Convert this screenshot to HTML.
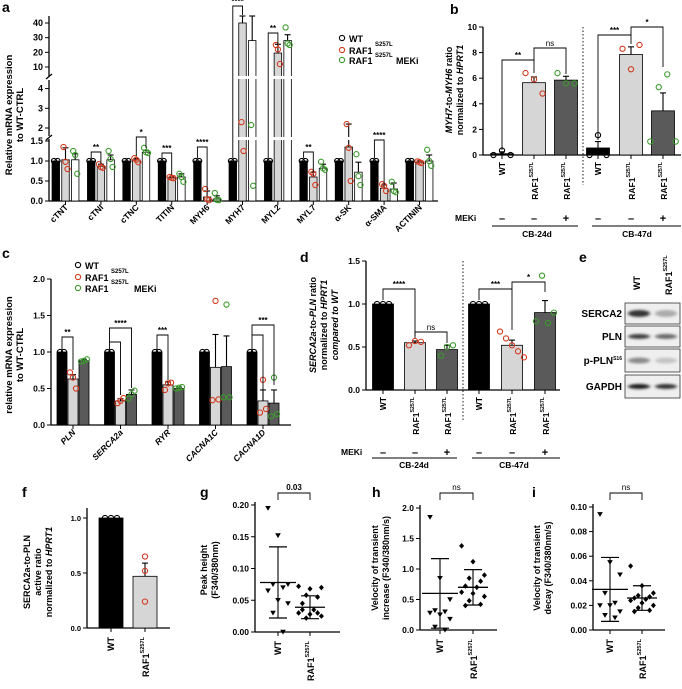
<!DOCTYPE html>
<html><head><meta charset="utf-8"><style>
html,body{margin:0;padding:0;background:#fff;}
svg{display:block;font-family:"Liberation Sans",Arial,sans-serif;font-weight:bold;}
</style></head><body>
<svg id="fig" xmlns="http://www.w3.org/2000/svg" width="682" height="689" viewBox="0 0 682 689"></svg>
<script>
// ---------- Panel a data ----------
const aGenes=['cTNT','cTNI','cTNC','TITIN','MYH6','MYH7','MYL2','MYL7','α-SK','α-SMA','ACTININ'];
const aWT=[1,1,1,1,1,1,1,1,1,1,1];
const aRaf=[1.03,0.87,1.03,0.58,0.1,40,19.5,0.6,1.35,0.32,0.97];
const aMek=[1.03,1.03,1.22,0.6,0.05,28,28,0.82,0.72,0.3,1.0];
const aRafErr=[0.3,0.05,0.03,0.02,0.15,6,6,0.12,0.85,0.08,0.03];
const aMekErr=[0.15,0.12,0.05,0.08,0.08,20,4,0.1,0.25,0.15,0.15];
const aRafPts=[[1.35,0.98,0.8],[0.92,0.85,0.83],[1.07,1.03,0.97],[0.6,0.58,0.57],[0.3,0.05,0.02],[2.3,1.25],[25,22,12],[0.73,0.68,0.4],[2.2,1.33,0.5],[0.42,0.38,0.25],[0.99,0.97,0.95]];
const aMekPts=[[1.25,1.15,0.68],[1.25,1.05,0.85],[1.33,1.22,1.2],[0.68,0.6,0.48],[0.2,0.03,0.02],[2.15,0.38],[37,26,25],[0.98,0.82,0.78],[1.17,0.62,0.4],[0.48,0.25,0.22],[1.28,1.0,0.88]];
const aTicks=[0,0.5,1,1.5,2,3,4,10,20,30,40];
const aTickLabels=['0.0','0.5','1.0','1.5','2','3','4','10','20','30','40'];
// ---------- Panel b data ----------
const bCats=['WT','RAF1','RAF1','WT','RAF1','RAF1'];
const bMeki=['–','–','+','–','–','+'];
const bVals=[0.1,5.65,5.85,0.55,7.85,3.45];
const bErr=[0.15,0.45,0.3,0.5,0.6,1.4];
const bPts=[[0,0.35,0],[6.4,5.9,4.8],[6.4,5.6,5.6],[0,1.55,0],[8.3,6.7,8.6],[1.05,5.3,6.3,1.05]];
const bTicks=[0,2,4,6,8,10];
// ---------- Panel c data ----------
const cGenes=['PLN','SERCA2a','RYR','CACNA1C','CACNA1D'];
const cWT=[1,1,1,1,1];
const cRaf=[0.63,0.33,0.55,0.79,0.33];
const cMek=[0.88,0.42,0.5,0.8,0.3];
const cRafErr=[0.06,0.03,0.04,0.45,0.15];
const cMekErr=[0.02,0.06,0.02,0.42,0.18];
const cRafPts=[[0.72,0.65,0.5],[0.3,0.33,0.37],[0.48,0.57,0.58],[0.34,1.7,0.35],[0.17,0.62,0.22]];
const cMekPts=[[0.87,0.88,0.9],[0.36,0.42,0.47],[0.5,0.51,0.52],[0.38,1.65,0.38],[0.12,0.65,0.15]];
const cTicks=[0,0.5,1,1.5,2];
// ---------- Panel d data ----------
const dVals=[1,0.55,0.47,1,0.52,0.9];
const dErr=[0,0.02,0.05,0,0.06,0.14];
const dPts=[[1,1,1],[0.52,0.57,0.56],[0.4,0.5,0.52],[1,1,1],[0.68,0.6,0.52,0.45,0.38],[0.8,1.33,0.78,0.9]];
const dTicks=[0,0.5,1,1.5];
// ---------- Panel f data ----------
const fVals=[1,0.47];
const fErr=[0,0.12];
const fPts=[[1,1,1],[0.65,0.52,0.24]];
const fTicks=[0,0.5,1];
// ---------- Panels g,h,i data ----------
const gWT=[0.195,0.152,0.075,0.075,0.07,0.065,0.05,0.045,0.03,0.0];
const gRaf=[0.072,0.068,0.07,0.058,0.055,0.045,0.035,0.03,0.028,0.025,0.022,0.03,0.035];
const gMean=[0.078,0.039];
const gSD=[0.056,0.018];
const gTicks=[0,0.05,0.1,0.15,0.2];
const hWT=[1.85,0.85,0.5,0.32,0.3,0.28,0.25,0.18,0.05,0.0];
const hRaf=[1.38,1.12,0.9,0.85,0.8,0.72,0.7,0.62,0.6,0.55,0.48,0.42,0.4];
const hMean=[0.6,0.7];
const hSD=[0.57,0.29];
const hTicks=[0,0.5,1,1.5,2];
const iWT=[0.094,0.055,0.045,0.03,0.022,0.02,0.02,0.015,0.012,0.01];
const iRaf=[0.052,0.036,0.03,0.028,0.027,0.026,0.025,0.024,0.022,0.02,0.018,0.016,0.015];
const iMean=[0.033,0.026];
const iSD=[0.026,0.01];
const iTicks=[0,0.02,0.04,0.06,0.08,0.1];

const NS='http://www.w3.org/2000/svg';
const svg=document.getElementById('fig');
const RED='#d23a1e', GRN='#3b9a2c', LG='#d6d6d6', DG='#5a5a5a';
function mk(tag,attrs,name,parent){
  const e=document.createElementNS(NS,tag);
  for(const k in attrs)e.setAttribute(k,attrs[k]);
  
  
  (parent||svg).appendChild(e);
  return e;
}
function tx(x,y,s,o,name){
  o=o||{};
  const a={x:x,y:y,'font-size':o.fs||8,'text-anchor':o.anchor||'start',fill:o.fill||'#000'};
  if(o.rot!==undefined)a.transform='rotate('+o.rot+' '+x+' '+y+')';
  if(o.italic)a['font-style']='italic';
  if(o.weight)a['font-weight']=o.weight;
  const t=mk('text',a,name);
  t.textContent=s;
  return t;
}
function raf(x,y,rot,name,fs){
  const a={x:x,y:y,'font-size':fs||8,'text-anchor':'end'};
  if(rot!==undefined)a.transform='rotate('+rot+' '+x+' '+y+')';
  const t=mk('text',a,name);
  t.appendChild(document.createTextNode('RAF1'));
  const s=document.createElementNS(NS,'tspan');
  s.setAttribute('font-size',(fs||8)*0.62);s.setAttribute('dy',-5);
  s.textContent='S257L';t.appendChild(s);
  return t;
}
function line(x1,y1,x2,y2,name,w,extra){
  const a={x1:x1,y1:y1,x2:x2,y2:y2,stroke:'#000','stroke-width':w||1};
  if(extra)for(const k in extra)a[k]=extra[k];
  return mk('line',a,name);
}
function circ(x,y,col,name){return mk('circle',{cx:x,cy:y,r:2.6,fill:'none',stroke:col,'stroke-width':1.1},name);}
function bar(x,w,y0,y1,fill,name){return mk('rect',{x:x-w/2,y:Math.min(y0,y1),width:w,height:Math.abs(y0-y1),fill:fill,stroke:'#000','stroke-width':0.8},name);}
function errUp(x,yv,ye,name){line(x,yv,x,ye,name,1.1);line(x-3,ye,x+3,ye,name+'-cap',1.1);}
function bracket(x1,ya1,x2,ya2,top,label,name,fs){
  mk('path',{d:'M'+x1+' '+ya1+'V'+top+'H'+x2+'V'+ya2,fill:'none',stroke:'#000','stroke-width':0.9},name);
  tx((x1+x2)/2,top-2,label,{fs:fs||8,anchor:'middle',weight:label==='ns'?'normal':'bold'},name+'-label');
}
function jit(i,n,sp){return (i-(n-1)/2)*sp;}

// ================= Panel a =================
tx(2,12,'a',{fs:14},'panel-a-label');
function ya(v){
  if(v<=1.5)return 201-40*v;
  if(v<=4.4)return 128-(v-2)*19.7;
  if(v<10)return 80-(v-4.4)/(5.6)*13;
  return 67-(v-10)*1.467;
}
line(49,201,49,139,'a-y-axis-seg1',1.3);line(49,136,49,80,'a-y-axis-seg2',1.3);line(49,76,49,16,'a-y-axis-seg3',1.3);
line(46,140,52,135,'a-axis-break-1',1.3);line(46,79,52,74,'a-axis-break-2',1.3);
line(49,201,438,201,'a-x-axis',1.3);
aTicks.forEach((t,i)=>{const y=ya(t);line(45,y,49,y,'a-y-tick');tx(43,y+3,aTickLabels[i],{fs:9,anchor:'end'},'a-y-tick-label');});
tx(12,115,'Relative mRNA expression',{fs:9.5,anchor:'middle',rot:-90},'a-y-axis-title');
tx(23,115,'to WT-CTRL',{fs:9.5,anchor:'middle',rot:-90},'a-y-axis-title-2');
aGenes.forEach((g,i)=>{
  const c=65.5+35.4*i, bw=7.5;
  bar(c-9.7,bw,201,ya(aWT[i]),'#000','a-bar-wt-'+g);
  bar(c,bw,201,ya(aRaf[i]),LG,'a-bar-raf1-'+g);
  bar(c+9.7,bw,201,ya(aMek[i]),'#fff','a-bar-meki-'+g);
  errUp(c,ya(aRaf[i]),Math.max(16,ya(aRaf[i]+aRafErr[i])),'a-err-raf1-'+g);
  errUp(c+9.7,ya(aMek[i]),Math.max(16,ya(aMek[i]+aMekErr[i])),'a-err-meki-'+g);
  line(c,201,c,205,'a-x-tick');
  tx(c+3,208,g,{fs:8.5,anchor:'end',rot:-45},'a-x-label-'+g);
});
mk('rect',{x:50,y:76,width:388,height:3,fill:'#fff'},'a-break-band-1');
mk('rect',{x:50,y:137,width:388,height:3,fill:'#fff'},'a-break-band-2');
aGenes.forEach((g,i)=>{
  const c=65.5+35.4*i;
  circ(c-11.5,ya(aWT[i]),'#000','a-point-wt');circ(c-8,ya(aWT[i]),'#000','a-point-wt');
  aRafPts[i].forEach((v,j)=>circ(c+jit(j,aRafPts[i].length,2),ya(v),RED,'a-point-raf1'));
  aMekPts[i].forEach((v,j)=>circ(c+9.7+jit(j,aMekPts[i].length,2),ya(v),GRN,'a-point-meki'));
});
(function(){const b=(i,k)=>65.5+35.4*i+(k-1)*9.7;
bracket(b(1,0),158,b(1,1),164,152,'**','a-sig-ctni');
bracket(b(2,1),156,b(2,2),148,137,'*','a-sig-ctnc');
bracket(b(3,0),158,b(3,1),175,153,'***','a-sig-titin');
bracket(b(4,0),158,b(4,1),190,147,'****','a-sig-myh6');
bracket(b(5,0),158,b(5,1),15,6,'****','a-sig-myh7');
bracket(b(6,0),158,b(6,1),45,33,'**','a-sig-myl2');
bracket(b(7,0),158,b(7,1),172,152,'**','a-sig-myl7');
bracket(b(9,0),158,b(9,1),185,140,'****','a-sig-asma');})();
circ(342,38,'#000','a-legend-wt-marker');tx(349,42,'WT',{fs:9},'a-legend-wt');
circ(342,50,RED,'a-legend-raf1-marker');tx(349,54,'RAF1',{fs:9},'a-legend-raf1');tx(375,46,'S257L',{fs:6},'a-legend-raf1-sup');
circ(342,60,GRN,'a-legend-meki-marker');tx(349,64,'RAF1',{fs:9},'a-legend-meki');tx(375,57,'S257L',{fs:6},'a-legend-meki-sup');tx(396,64,'MEKi',{fs:9},'a-legend-meki-label');

// ================= Panel b =================
tx(450,14,'b',{fs:14},'panel-b-label');
function yb(v){return 155-12.8*v;}
const bX=[502,534,566,598,631,663];
line(483,155,483,27,'b-y-axis',1.3);line(483,155,681,155,'b-x-axis',1.3);
bTicks.forEach(t=>{line(479,yb(t),483,yb(t),'b-y-tick');tx(477,yb(t)+3,String(t),{fs:8.5,anchor:'end'},'b-y-tick-label');});
line(583,27,583,185,'b-divider',0.9,{'stroke-dasharray':'1.5,2'});
(function(){
  const t=mk('text',{x:452,y:90,'font-size':9,'text-anchor':'middle',transform:'rotate(-90 452 90)'},'b-y-axis-title');
  t.innerHTML='<tspan font-style="italic">MYH7</tspan>-to-<tspan font-style="italic">MYH6</tspan> ratio';
  const t2=mk('text',{x:463,y:90,'font-size':9,'text-anchor':'middle',transform:'rotate(-90 463 90)'},'b-y-axis-title-2');
  t2.innerHTML='normalized to <tspan font-style="italic">HPRT1</tspan>';
})();
bVals.forEach((v,i)=>{
  const x=bX[i], fill=i%3===0?'#000':(i%3===1?LG:DG);
  bar(x,23,155,yb(v),fill,'b-bar-'+i);
  errUp(x,yb(v),yb(v+bErr[i]),'b-err-'+i);
  const col=i%3===0?'#000':(i%3===1?RED:GRN);
  bPts[i].forEach((p,j)=>circ(x+jit(j,bPts[i].length,8.5),yb(p),col,'b-point'));
  line(x,155,x,159,'b-x-tick');
  if(bCats[i]==='WT')tx(x+3,162,'WT',{fs:8.5,anchor:'end',rot:-90},'b-x-label-wt');
  else raf(x+4,162,-90,'b-x-label-raf1',8.5);
  tx(x,222,bMeki[i],{fs:11,anchor:'middle'},'b-meki-sign');
});
tx(455,221,'MEKi',{fs:8.5},'b-meki-label');
line(492,226,578,226,'b-group-line-24d');line(592,226,681,226,'b-group-line-47d');
tx(537,237,'CB-24d',{fs:8.5,anchor:'middle'},'b-group-24d');tx(637,237,'CB-47d',{fs:8.5,anchor:'middle'},'b-group-47d');
bracket(bX[0],150,bX[1],73,60,'**','b-sig-1');
bracket(bX[1],60,bX[2],74,48,'ns','b-sig-2');
bracket(bX[3],140,bX[4],44,35,'***','b-sig-3');
bracket(bX[4],35,bX[5],67,27,'*','b-sig-4');

// ================= Panel c =================
tx(2,258,'c',{fs:14},'panel-c-label');
function yc(v){return 425-73*v;}
line(51,425,51,279,'c-y-axis',1.3);line(51,425,291,425,'c-x-axis',1.3);
cTicks.forEach(t=>{line(47,yc(t),51,yc(t),'c-y-tick');tx(45,yc(t)+3,t.toFixed(1),{fs:8.5,anchor:'end'},'c-y-tick-label');});
tx(12,355,'relative mRNA expression',{fs:9.5,anchor:'middle',rot:-90},'c-y-axis-title');
tx(23,355,'to WT-CTRL',{fs:9.5,anchor:'middle',rot:-90},'c-y-axis-title-2');
cGenes.forEach((g,i)=>{
  const c=73+47.5*i, bw=10;
  bar(c-11,bw,425,yc(cWT[i]),'#000','c-bar-wt-'+g);
  bar(c,bw,425,yc(cRaf[i]),LG,'c-bar-raf1-'+g);
  bar(c+11,bw,425,yc(cMek[i]),DG,'c-bar-meki-'+g);
  errUp(c,yc(cRaf[i]),yc(cRaf[i]+cRafErr[i]),'c-err-raf1');
  errUp(c+11,yc(cMek[i]),yc(cMek[i]+cMekErr[i]),'c-err-meki');
  circ(c-13,yc(cWT[i]),'#000','c-point-wt');circ(c-9,yc(cWT[i]),'#000','c-point-wt');
  cRafPts[i].forEach((v,j)=>circ(c+jit(j,3,3),yc(v),RED,'c-point-raf1'));
  cMekPts[i].forEach((v,j)=>circ(c+11+jit(j,3,3),yc(v),GRN,'c-point-meki'));
  line(c,425,c,429,'c-x-tick');
  tx(c+3,433,g,{fs:8.5,anchor:'end',rot:-45,italic:true},'c-x-label-'+g);
});
(function(){const b=(i,k)=>73+47.5*i+(k-1)*11;
bracket(b(0,0),350,b(0,1),370,337,'**','c-sig-pln');
bracket(b(1,0),350,b(1,1),395,342,'','c-sig-serca-inner');
bracket(b(1,0),342,b(1,2),388,328,'****','c-sig-serca');
bracket(b(2,0),350,b(2,1),380,335,'***','c-sig-ryr');
bracket(b(4,0),350,b(4,1),395,335,'','c-sig-cacna1d-inner');
bracket(b(4,0),335,b(4,2),385,325,'***','c-sig-cacna1d');})();
circ(78,265,'#000','c-legend-wt-marker');tx(85,269,'WT',{fs:9},'c-legend-wt');
circ(78,277,RED,'c-legend-raf1-marker');tx(85,281,'RAF1',{fs:9},'c-legend-raf1');tx(111,273,'S257L',{fs:6},'c-legend-raf1-sup');
circ(78,288,GRN,'c-legend-meki-marker');tx(85,292,'RAF1',{fs:9},'c-legend-meki');tx(111,284,'S257L',{fs:6},'c-legend-meki-sup');tx(134,292,'MEKi',{fs:9},'c-legend-meki-label');

// ================= Panel d =================
tx(300,262,'d',{fs:14},'panel-d-label');
function yd(v){return 390-86*v;}
const dX=[383,415,447,479,512,545];
line(366,390,366,261,'d-y-axis',1.3);line(366,390,560,390,'d-x-axis',1.3);
dTicks.forEach(t=>{line(362,yd(t),366,yd(t),'d-y-tick');tx(360,yd(t)+3,t.toFixed(1),{fs:8.5,anchor:'end'},'d-y-tick-label');});
line(463,261,463,420,'d-divider',0.9,{'stroke-dasharray':'1.5,2'});
(function(){
  const t=mk('text',{x:316,y:325,'font-size':9,'text-anchor':'middle',transform:'rotate(-90 316 325)'},'d-y-axis-title');
  t.innerHTML='<tspan font-style="italic">SERCA2a</tspan>-to-<tspan font-style="italic">PLN</tspan> ratio';
  const t2=mk('text',{x:327,y:325,'font-size':9,'text-anchor':'middle',transform:'rotate(-90 327 325)'},'d-y-axis-title-2');
  t2.innerHTML='normalized to <tspan font-style="italic">HPRT1</tspan>';
  const t3=mk('text',{x:338,y:325,'font-size':9,'text-anchor':'middle','font-style':'italic',transform:'rotate(-90 338 325)'},'d-y-axis-title-3');
  t3.textContent='compared to WT';
})();
dVals.forEach((v,i)=>{
  const x=dX[i], fill=i%3===0?'#000':(i%3===1?LG:DG);
  bar(x,21,390,yd(v),fill,'d-bar-'+i);
  if(dErr[i]>0)errUp(x,yd(v),yd(v+dErr[i]),'d-err-'+i);
  const col=i%3===0?'#000':(i%3===1?RED:GRN);
  dPts[i].forEach((p,j)=>circ(x+jit(j,dPts[i].length,6),yd(p),col,'d-point'));
  line(x,390,x,394,'d-x-tick');
  if(i%3===0)tx(x+3,397,'WT',{fs:8.5,anchor:'end',rot:-90},'d-x-label-wt');
  else raf(x+4,397,-90,'d-x-label-raf1',8.5);
  tx(x,456,bMeki[i],{fs:11,anchor:'middle'},'d-meki-sign');
});
tx(341,455,'MEKi',{fs:8.5},'d-meki-label');
line(372,458,457,458,'d-group-line-24d');line(472,458,560,458,'d-group-line-47d');
tx(414,468,'CB-24d',{fs:8.5,anchor:'middle'},'d-group-24d');tx(514,468,'CB-47d',{fs:8.5,anchor:'middle'},'d-group-47d');
bracket(dX[0],300,dX[1],338,289,'****','d-sig-1');
bracket(dX[1],336,dX[2],343,332,'ns','d-sig-2');
bracket(dX[3],300,dX[4],330,289,'***','d-sig-3');
bracket(dX[4],289,dX[5],292,282,'*','d-sig-4');

// ================= Panel e (western blot) =================
tx(579,262,'e',{fs:14},'panel-e-label');
tx(640,290,'WT',{fs:9,anchor:'start',rot:-90},'e-lane-wt');
(function(){const t=mk('text',{x:672,y:295,'font-size':9,transform:'rotate(-90 672 295)'},'e-lane-raf1');t.appendChild(document.createTextNode('RAF1'));const s=document.createElementNS(NS,'tspan');s.setAttribute('font-size',5.5);s.setAttribute('dy',-5);s.textContent='S257L';t.appendChild(s);})();
const eBands=['SERCA2','PLN','p-PLN','GAPDH'];
const eY=[303,326,349,375];
const eH=[21,21,23,23];
const eDark=[[0.85,0.3],[0.8,0.6],[0.45,0.18],[0.95,0.85]];
const eThick=[6,4,5,4];
(function(){
  const defs=mk('defs',{},'e-defs');
  const f=mk('filter',{id:'blur',x:'-20%',y:'-100%',width:'140%',height:'300%'},'e-blur-filter',defs);
  mk('feGaussianBlur',{stdDeviation:'1.6 1.2'},'e-blur',f);
})();
eBands.forEach((b,i)=>{
  mk('rect',{x:625,y:eY[i],width:55,height:eH[i],fill:'#efefef',stroke:'#333','stroke-width':0.8},'e-blot-'+b);
  [639,666].forEach((x,j)=>{
    const d=eDark[i][j];
    const g=Math.round(235-215*d);
    mk('ellipse',{cx:x,cy:eY[i]+eH[i]/2,rx:11,ry:eThick[i]/2+0.5,fill:'rgb('+g+','+g+','+g+')',filter:'url(#blur)'},'e-band-'+b);
  });
  if(b==='p-PLN'){const t=mk('text',{x:622,y:eY[i]+eH[i]/2+3.5,'font-size':10,'text-anchor':'end'},'e-label-'+b);t.appendChild(document.createTextNode('p-PLN'));const s=document.createElementNS(NS,'tspan');s.setAttribute('font-size',5);s.setAttribute('dy',-4);s.textContent='S16';t.appendChild(s);}
  else tx(622,eY[i]+eH[i]/2+3.5,b,{fs:10,anchor:'end'},'e-label-'+b);
});

// ================= Panel f =================
tx(22,497,'f',{fs:14},'panel-f-label');
function yf(v){return 628-110*v;}
line(87,628,87,508,'f-y-axis',1.3);line(87,628,170,628,'f-x-axis',1.3);
fTicks.forEach(t=>{line(83,yf(t),87,yf(t),'f-y-tick');tx(81,yf(t)+3,t.toFixed(1),{fs:7.5,anchor:'end'},'f-y-tick-label');});
tx(30,572,'SERCA2a-to-PLN',{fs:9,anchor:'middle',rot:-90},'f-y-axis-title');
tx(41,572,'active ratio',{fs:9,anchor:'middle',rot:-90},'f-y-axis-title-2');
(function(){const t=mk('text',{x:52,y:572,'font-size':9,'text-anchor':'middle',transform:'rotate(-90 52 572)'},'f-y-axis-title-3');t.innerHTML='normalized to <tspan font-style="italic">HPRT1</tspan>';})();
fVals.forEach((v,i)=>{
  const x=[111,145][i];
  bar(x,24,628,yf(v),i===0?'#000':LG,'f-bar-'+i);
  if(fErr[i]>0)errUp(x,yf(v),yf(v+fErr[i]),'f-err');
  fPts[i].forEach((p,j)=>circ(i===0?x+jit(j,3,6):x,yf(p),i===0?'#000':RED,'f-point'));
  line(x,628,x,632,'f-x-tick');
  if(i===0)tx(x+3,637,'WT',{fs:9,anchor:'end',rot:-90},'f-x-label-wt');else raf(x+4,637,-90,'f-x-label-raf1',9);
});

// ================= Scatter panels g,h,i =================
function scatter(cfg){
  const {id,ax,x1,x2,xe,ticks,dec,top,wt,rf,mean,sd,titles,sig,lx}=cfg;
  const sc=v=>cfg.y0-(v/ticks[ticks.length-1])*(cfg.y0-top);
  tx(lx,497,id,{fs:14},'panel-'+id+'-label');
  line(ax,cfg.y0,ax,top-3,id+'-y-axis',1.3);line(ax,cfg.y0,xe,cfg.y0,id+'-x-axis',1.3);
  ticks.forEach(t=>{line(ax-4,sc(t),ax,sc(t),id+'-y-tick');tx(ax-6,sc(t)+3,t.toFixed(dec),{fs:8.5,anchor:'end'},id+'-y-tick-label');});
  titles.forEach((t,k)=>tx(cfg.tx+k*11,cfg.ty,t,{fs:9,anchor:'middle',rot:-90},id+'-y-axis-title-'+k));
  wt.forEach((v,j)=>{const x=x1+((j*7)%5-2)*5, y=sc(v);
    mk('path',{d:'M'+(x-2.8)+' '+(y-2.2)+'L'+(x+2.8)+' '+(y-2.2)+'L'+x+' '+(y+2.6)+'Z',fill:'#000'},id+'-point-wt');});
  rf.forEach((v,j)=>{const x=x2+((j*3)%7-3)*3.8, y=sc(v);
    mk('path',{d:'M'+x+' '+(y-2.8)+'L'+(x+2.5)+' '+y+'L'+x+' '+(y+2.8)+'L'+(x-2.5)+' '+y+'Z',fill:'#000'},id+'-point-raf1');});
  [x1,x2].forEach((x,k)=>{
    const w=k===0?18:15;
    line(x-w,sc(mean[k]),x+w,sc(mean[k]),id+'-mean-'+k,1.3);
    line(x,sc(Math.max(0,mean[k]-sd[k])),x,sc(mean[k]+sd[k]),id+'-sd-'+k,1.1);
    line(x-9,sc(mean[k]+sd[k]),x+9,sc(mean[k]+sd[k]),id+'-sd-cap-hi-'+k,1.2);
    line(x-9,sc(Math.max(0,mean[k]-sd[k])),x+9,sc(Math.max(0,mean[k]-sd[k])),id+'-sd-cap-lo-'+k,1.2);
    line(x,cfg.y0,x,cfg.y0+4,id+'-x-tick');
  });
  tx(x1+3,cfg.y0+9,'WT',{fs:9,anchor:'end',rot:-90},id+'-x-label-wt');
  raf(x2+4,cfg.y0+9,-90,id+'-x-label-raf1',9);
  mk('path',{d:'M'+x1+' 500V493H'+x2+'V500',fill:'none',stroke:'#000','stroke-width':0.9},id+'-sig-bracket');
  tx((x1+x2)/2,490,sig,{fs:8,anchor:'middle',weight:sig==='ns'?'normal':'bold'},id+'-sig-label');
}
scatter({id:'g',ax:255,x1:278,x2:310,xe:340,y0:632,top:505,ticks:gTicks,dec:2,wt:gWT,rf:gRaf,mean:gMean,sd:gSD,titles:['Peak height','(F340/380nm)'],tx:207,ty:570,sig:'0.03',lx:200});
scatter({id:'h',ax:420,x1:440,x2:473,xe:497,y0:630,top:508,ticks:hTicks,dec:1,wt:hWT,rf:hRaf,mean:hMean,sd:hSD,titles:['Velocity of transient','increase (F340/380nm/s)'],tx:378,ty:568,sig:'ns',lx:372});
scatter({id:'i',ax:593,x1:610,x2:642,xe:665,y0:630,top:507,ticks:iTicks,dec:2,wt:iWT,rf:iRaf,mean:iMean,sd:iSD,titles:['Velocity of transient','decay (F340/380nm/s)'],tx:540,ty:568,sig:'ns',lx:532});
</script>
</body></html>
